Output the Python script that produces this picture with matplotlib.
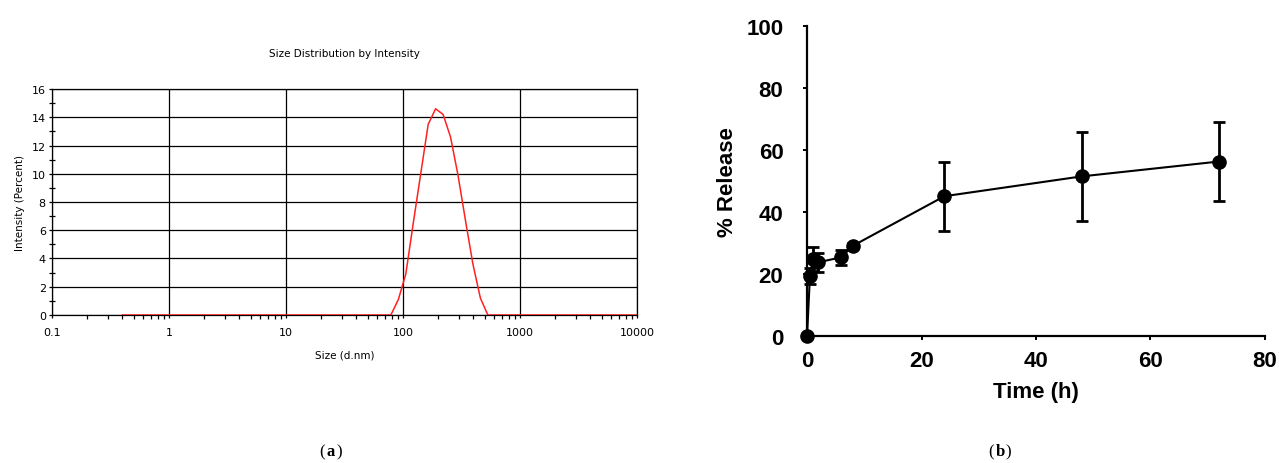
import matplotlib.pyplot as plt
from matplotlib.ticker import FixedLocator, FixedFormatter, MultipleLocator, LogLocator, NullFormatter

# (a) DLS size distribution by intensity
size_nm = [0.4, 78.8, 91.3, 105.7, 122.4, 141.8, 164.2, 190.1, 220.2, 255.0,
           295.3, 342.0, 396.1, 458.7, 531.2, 615.1, 10000]
intensity = [0, 0, 1.1, 2.9, 6.5, 10.0, 13.5, 14.6, 14.2, 12.6,
             9.9, 6.7, 3.6, 1.2, 0, 0, 0]

# (b) release profile
time_h = [0, 0.5, 1, 2, 6, 8, 24, 48, 72]
release = [0, 19.3, 24.8, 23.8, 25.4, 29.1, 45.1, 51.5, 56.3]
release_err = [0, 2.5, 3.8, 3.1, 2.4, 0.8, 11.1, 14.3, 12.7]

fig = plt.figure(figsize=(12.79, 4.64), dpi=100)
fig.patch.set_facecolor('white')

# ---- left panel
ax1 = fig.add_axes([0.0407, 0.319, 0.4573, 0.487])
ax1.plot(size_nm, intensity, color='#ff2020', lw=1.1, zorder=3)
ax1.set_xscale('log')
ax1.set_xlim(0.1, 10000)
ax1.set_ylim(0, 16)
ax1.xaxis.set_major_locator(FixedLocator([0.1, 1, 10, 100, 1000, 10000]))
ax1.xaxis.set_major_formatter(FixedFormatter(['0.1', '1', '10', '100', '1000', '10000']))
ax1.xaxis.set_minor_locator(LogLocator(base=10, subs=range(2, 10)))
ax1.xaxis.set_minor_formatter(NullFormatter())
ax1.yaxis.set_major_locator(MultipleLocator(2))
ax1.yaxis.set_minor_locator(MultipleLocator(1))
ax1.grid(True, which='major', color='black', lw=0.9)
for s in ax1.spines.values():
    s.set_color('black')
    s.set_linewidth(0.9)
ax1.tick_params(which='major', length=2.5, width=0.9, labelsize=8, pad=2)
ax1.tick_params(axis='x', which='major', pad=6)
ax1.tick_params(axis='x', which='minor', length=3, width=0.9, direction='out')
ax1.tick_params(axis='y', which='minor', length=5, width=0.9, direction='inout')
ax1.set_title('Size Distribution by Intensity', fontsize=7.5, pad=24)
ax1.set_xlabel('Size (d.nm)', fontsize=7.5, labelpad=9)
ax1.set_ylabel('Intensity (Percent)', fontsize=7.5, labelpad=5)

# ---- right panel
ax2 = fig.add_axes([0.631, 0.2737, 0.358, 0.668])
ax2.errorbar(time_h, release, yerr=release_err, color='black', lw=1.5,
             marker='o', markersize=9.5, elinewidth=2, capsize=4.5, capthick=2,
             clip_on=False, zorder=3)
ax2.set_xlim(0, 80)
ax2.set_ylim(0, 100)
ax2.set_xticks([0, 20, 40, 60, 80])
ax2.set_yticks([0, 20, 40, 60, 80, 100])
ax2.spines['top'].set_visible(False)
ax2.spines['right'].set_visible(False)
ax2.spines['left'].set_linewidth(1.6)
ax2.spines['bottom'].set_linewidth(1.6)
ax2.tick_params(length=3, width=1.4, labelsize=16)
ax2.tick_params(axis='y', pad=14)
ax2.tick_params(axis='x', pad=7)
for lab in ax2.get_xticklabels() + ax2.get_yticklabels():
    lab.set_family('Liberation Sans')
    lab.set_fontweight('bold')
ax2.set_xlabel('Time (h)', fontsize=16, fontweight='bold', family='Liberation Sans', labelpad=7)
ax2.set_ylabel('% Release', fontsize=16, fontweight='bold', family='Liberation Sans', labelpad=6)

# captions
for xc, letter in [(0.2588, 'a'), (0.7818, 'b')]:
    fig.text(xc - 0.0045, 0.008, '(', fontsize=12, family='Liberation Serif', ha='right', va='bottom')
    fig.text(xc, 0.008, letter, fontsize=12, family='Liberation Serif', fontweight='bold',
             ha='center', va='bottom')
    fig.text(xc + 0.0045, 0.008, ')', fontsize=12, family='Liberation Serif', ha='left', va='bottom')

fig.savefig('out.png', dpi=100)
